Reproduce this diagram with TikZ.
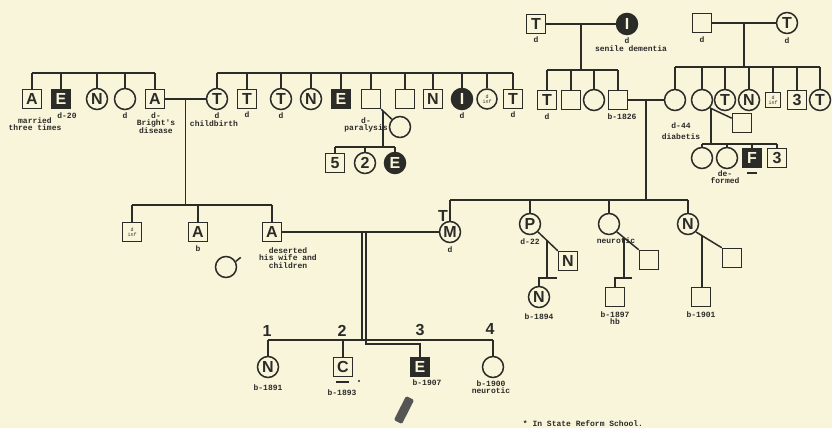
\documentclass[tikz,border=0pt]{standalone}
\usepackage{fontspec}
\newfontfamily\symfont{Liberation Sans}
\newfontfamily\typefont{Liberation Mono}
\usetikzlibrary{positioning}
\definecolor{ink}{HTML}{2B2B28}
\definecolor{paper}{HTML}{F9F5DB}

\begin{document}
\begin{tikzpicture}[
x=1pt, y=-1pt,
node distance = 2pt and 2pt,
male/.style={rectangle, draw=ink, line width=1.5pt, minimum size=19pt, inner sep=0pt, text=ink, font=\symfont\bfseries\fontsize{16}{16}\selectfont},
female/.style={circle, draw=ink, line width=1.5pt, minimum size=21pt, inner sep=0pt, text=ink, font=\symfont\bfseries\fontsize{16}{16}\selectfont},
affected/.style={fill=ink, text=paper},
tinybox/.style={minimum size=15pt, font=\typefont\fontsize{5}{5}\selectfont, align=center},
note/.style={font=\typefont\bfseries\fontsize{8}{7.5}\selectfont, text=ink, align=center, inner sep=0pt},
num/.style={font=\symfont\bfseries\fontsize{16}{16}\selectfont, text=ink, inner sep=0pt},
link/.style={draw=ink, line width=1.5pt}]

\fill[paper] (0,0) rectangle (832,428);
\useasboundingbox (0,0) rectangle (832,428);

% left sibship
\coordinate (lbar) at (0,73);
\node[male] (lA1) at (32,99) {A};
\node[male, affected] (lE) at (61,99) {E};
\node[female] (lN) at (97,99) {N};
\node[female] (lO) at (125,99) {};
\node[male] (lA2) at (155,99) {A};
\draw[link] (lA1.north |- lbar) -- (lA2.north |- lbar);
\foreach \n in {lA1,lE,lN,lO,lA2}
  \draw[link] (\n.north) -- (\n.north |- lbar);
\node[note] at (35,124) {married\\three times};
\node[note] at (67,116) {d-20};
\node[note, below=2pt of lO] {d};
\node[note] at (156,123) {d-\\Bright's\\disease};

% middle sibship
\coordinate (mbar) at (0,73);
\node[female] (mT1) at (217,99) {T};
\node[male] (mT2) at (247,99) {T};
\node[female] (mT3) at (281,99) {T};
\node[female] (mN1) at (311,99) {N};
\node[male, affected] (mE) at (341,99) {E};
\node[male] (mS1) at (371,99) {};
\node[male] (mS2) at (405,99) {};
\node[male] (mN2) at (433,99) {N};
\node[female, affected] (mI) at (462,99) {I};
\node[female, tinybox, minimum size=20pt] (mD) at (487,99) {d\\inf};
\node[male] (mT4) at (513,99) {T};
\draw[link] (mT1.north |- mbar) -- (mT4.north |- mbar);
\foreach \n in {mT1,mT2,mT3,mN1,mE,mS1,mS2,mN2,mI,mD,mT4}
  \draw[link] (\n.north) -- (\n.north |- mbar);
\node[note, below=2pt of mT1] (mT1d) {d};
\node[note, below=2pt of mT1d, xshift=-3pt] {childbirth};
\node[note, below=2pt of mT2] {d};
\node[note, below=2pt of mT3] {d};
\node[note] at (366,125) {d-\\paralysis};
\node[note, below=2pt of mI] {d};
\node[note, below=2pt of mT4] {d};

% mS1 and wife
\node[female] (mW) at (400,127) {};
\draw[link] (mS1.south east) -- coordinate[pos=0.15] (mSW) (mW);
\coordinate (m2bar) at (0,147);
\node[male] (m5) at (335,163) {5};
\node[female] (m2) at (365,163) {2};
\node[female, affected] (mE2) at (395,163) {E};
\draw[link] (mSW) -- (mSW |- m2bar);
\draw[link] (m5.north |- m2bar) -- (mE2.north |- m2bar);
\foreach \n in {m5,m2,mE2}
  \draw[link] (\n.north) -- (\n.north |- m2bar);

% A x T
\draw[link] (lA2) -- coordinate (lAT) (mT1);
\coordinate (kbar) at (0,205);
\node[male, tinybox, minimum size=19pt] (k1) at (132,232) {d\\inf};
\node[male] (kA1) at (198,232) {A};
\node[male] (kA2) at (272,232) {A};
\draw[link] (lAT) -- (lAT |- kbar);
\draw[link] (k1.north |- kbar) -- (kA2.north |- kbar);
\foreach \n in {k1,kA1,kA2}
  \draw[link] (\n.north) -- (\n.north |- kbar);
\node[note, below=3pt of kA1] {b};
\node[note] at (288,258) {deserted\\his wife and\\children};
\node[female] (kW) at (226,267) {};
\draw[link] (kW.30) -- ++(5,-4);

% A x M
\node[female] (gM) at (450,232) {M};
\draw[link] (kA2) -- (gM);
\node[num] (gMT) at (443,216) {T};
\node[note, below=3pt of gM] {d};
\coordinate (dA) at (362,232);
\coordinate (dB) at (366,232);
\coordinate (dbar) at (0,340);
\coordinate (ebar) at (0,344);
\node[num] (n1) at (267,331) {1};
\node[num] (n2) at (342,331) {2};
\node[num] (n3) at (420,330) {3};
\node[num] (n4) at (490,329) {4};
\node[female] (d1) at (268,367) {N};
\node[male] (d2) at (343,367) {C};
\node[male, affected] (d3) at (420,367) {E};
\node[female] (d4) at (493,367) {};
\draw[link] (dA) -- (dA |- dbar);
\draw[link] (dB) -- (dB |- ebar) -- (d3.north |- ebar) -- (d3.north);
\draw[link] (d1.north |- dbar) -- (d4.north |- dbar);
\foreach \n in {d1,d2,d4}
  \draw[link] (\n.north) -- (\n.north |- dbar);
\node[note, below=6pt of d1] {b-1891};
\draw[ink, line width=2pt] (336,382) -- (349,382);
\fill[ink] (359,381) circle (1.2);
\node[note] at (342,393) {b-1893};
\node[note] at (427,383) {b-1907};
\node[note] at (491,387) {b-1900\\neurotic};
\node[rotate=63, fill=ink!80, minimum width=27pt, minimum height=9pt, inner sep=0pt, rounded corners=1.5pt] (stamp) at (404,410) {};
\node[note] (foot) at (583,424) {* In State Reform School.};

% right grandparents
\node[male] (gT) at (536,24) {T};
\node[female, affected] (gI) at (627,24) {I};
\draw[link] (gT) -- coordinate (gTI) (gI);
\node[note, below=2pt of gT] {d};
\node[note, below=2pt of gI] (gId) {d};
\node[note, below=2pt of gId, xshift=4pt] {senile dementia};
\coordinate (rbar1) at (0,70);
\node[male] (rT) at (547,100) {T};
\node[male] (rS1) at (571,100) {};
\node[female] (rO) at (594,100) {};
\node[male] (rB) at (618,100) {};
\draw[link] (gTI) -- (gTI |- rbar1);
\draw[link] (rT.north |- rbar1) -- (rB.north |- rbar1);
\foreach \n in {rT,rS1,rO,rB}
  \draw[link] (\n.north) -- (\n.north |- rbar1);
\node[note, below=3pt of rT] {d};
\node[note, below=3pt of rB, xshift=4pt] {b-1826};

\node[male] (gS) at (702,23) {};
\node[female] (gT2) at (787,23) {T};
\draw[link] (gS) -- coordinate (gST) (gT2);
\node[note, below=3pt of gS] {d};
\node[note, below=3pt of gT2] {d};
\coordinate (rbar2) at (0,67);
\node[female] (rC1) at (675,100) {};
\node[female] (rC2) at (702,100) {};
\node[female] (rT2) at (725,100) {T};
\node[female] (rN) at (749,100) {N};
\node[male, tinybox] (rD) at (773,100) {d\\inf};
\node[male] (r3) at (797,100) {3};
\node[female] (rT3) at (820,100) {T};
\draw[link] (gST) -- (gST |- rbar2);
\draw[link] (rC1.north |- rbar2) -- (rT3.north |- rbar2);
\foreach \n in {rC1,rC2,rT2,rN,rD,r3,rT3}
  \draw[link] (\n.north) -- (\n.north |- rbar2);
\node[note] at (681,131) {d-44\\[3pt]diabetis};

\node[male] (rH) at (742,123) {};
\draw[link] (rC2.south east) -- coordinate[pos=0.05] (rCH) (rH);
\coordinate (fbar) at (0,144);
\node[female] (f1) at (702,158) {};
\node[female] (f2) at (727,158) {};
\node[male, affected] (fF) at (752,158) {F};
\node[male] (f3) at (777,158) {3};
\draw[link] (rCH) -- (rCH |- fbar);
\draw[link] (f1.north |- fbar) -- (f3.north |- fbar);
\foreach \n in {f1,f2,fF,f3}
  \draw[link] (\n.north) -- (\n.north |- fbar);
\node[note] at (725,177) {de-\\formed};
\draw[ink, line width=2pt] (747,173) -- (757,173);

% B x C
\draw[link] (rB) -- coordinate (rBC) (rC1);
\coordinate (gbar) at (0,200);
\draw[link] (rBC) -- (rBC |- gbar);
\node[female] (gP) at (530,224) {P};
\node[female] (rNe) at (609,224) {};
\node[female] (rN2) at (688,224) {N};
\draw[link] (gM.north |- gbar) -- (rN2.north |- gbar);
\foreach \n in {gM,gP,rNe,rN2}
  \draw[link] (\n.north) -- (\n.north |- gbar);
\node[note, below=3pt of gP] {d-22};
\node[note] at (616,241) {neurotic};

\coordinate (pbar) at (0,278);
\node[male] (pH) at (568,261) {N};
\draw[link] (gP.south east) -- coordinate[pos=0.45] (pm) (pH.north west);
\node[female] (pC) at (539,297) {N};
\draw[link] (pm) -- (pm |- pbar);
\draw[link] (pC.north) -- (pC.north |- pbar) -- (pm |- pbar) -- ++(10,0);
\node[note, below=5pt of pC] {b-1894};

\node[male] (nH) at (649,260) {};
\draw[link] (rNe.south east) -- coordinate[pos=0.33] (nm) (nH.north west);
\node[male] (nC) at (615,297) {};
\draw[link] (nm) -- (nm |- pbar);
\draw[link] (nC.north) -- (nC.north |- pbar) -- (nm |- pbar) -- ++(8,0);
\node[note, below=4pt of nC] {b-1897\\hb};

\node[male] (oH) at (732,258) {};
\draw[link] (rN2.south east) -- coordinate[pos=0.24] (om) (oH.north west);
\node[male] (oC) at (701,297) {};
\draw[link] (om) -- (om |- oC.north);
\node[note, below=4pt of oC] {b-1901};
\end{tikzpicture}
\end{document}
